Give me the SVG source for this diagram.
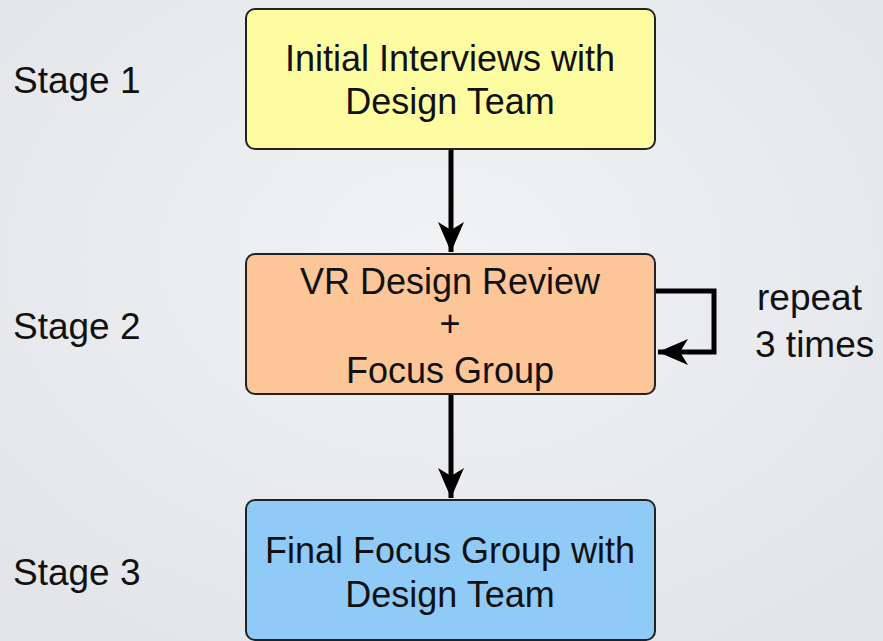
<svg xmlns="http://www.w3.org/2000/svg" width="883" height="641" viewBox="0 0 883 641">
<defs>
<radialGradient id="bg" cx="50%" cy="40%" r="75%">
<stop offset="0" stop-color="#f1f2f4"/>
<stop offset="1" stop-color="#e2e4e8"/>
</radialGradient>
<marker id="ah" viewBox="0 0 30 26" refX="30" refY="13" markerWidth="30" markerHeight="26" markerUnits="userSpaceOnUse" orient="auto">
<path d="M0,0 L30,13 L0,26 L8,13 Z" fill="#000"/>
</marker>
<style>
.box{stroke:#222;stroke-width:2}
.t{font-family:"Liberation Sans",Arial,sans-serif;font-size:36px;fill:#111}
.s{font-size:37px}
.c{text-anchor:middle}
.ln{fill:none;stroke:#000;stroke-width:5}
</style>
</defs>
<rect width="883" height="641" fill="url(#bg)"/>
<g id="labels">
<text class="t s" x="13" y="93">Stage 1</text>
<text class="t s" x="13" y="339">Stage 2</text>
<text class="t s" x="13" y="585">Stage 3</text>
<text class="t s" x="757" y="310">repeat</text>
<text class="t s" x="755" y="357">3 times</text>
</g>
<g id="connectors">
<path class="ln" d="M451,150 V252" marker-end="url(#ah)"/>
<path class="ln" d="M451,395 V498" marker-end="url(#ah)"/>
<path class="ln" d="M656,291 H714 V352 H658" marker-end="url(#ah)"/>
</g>
<g id="stage1">
<rect class="box" x="246" y="9" width="409" height="140" rx="9" fill="#fdfca1"/>
<text class="t c" x="450" y="71">Initial Interviews with</text>
<text class="t c" x="450" y="114">Design Team</text>
</g>
<g id="stage2">
<rect class="box" x="246" y="254" width="409" height="140" rx="9" fill="#fcc699"/>
<text class="t c" x="450" y="294">VR Design Review</text>
<text class="t c" x="450" y="336">+</text>
<text class="t c" x="450" y="383">Focus Group</text>
</g>
<g id="stage3">
<rect class="box" x="246" y="500" width="409" height="140" rx="9" fill="#90cbf8"/>
<text class="t c" x="450" y="563">Final Focus Group with</text>
<text class="t c" x="450" y="607">Design Team</text>
</g>
</svg>
